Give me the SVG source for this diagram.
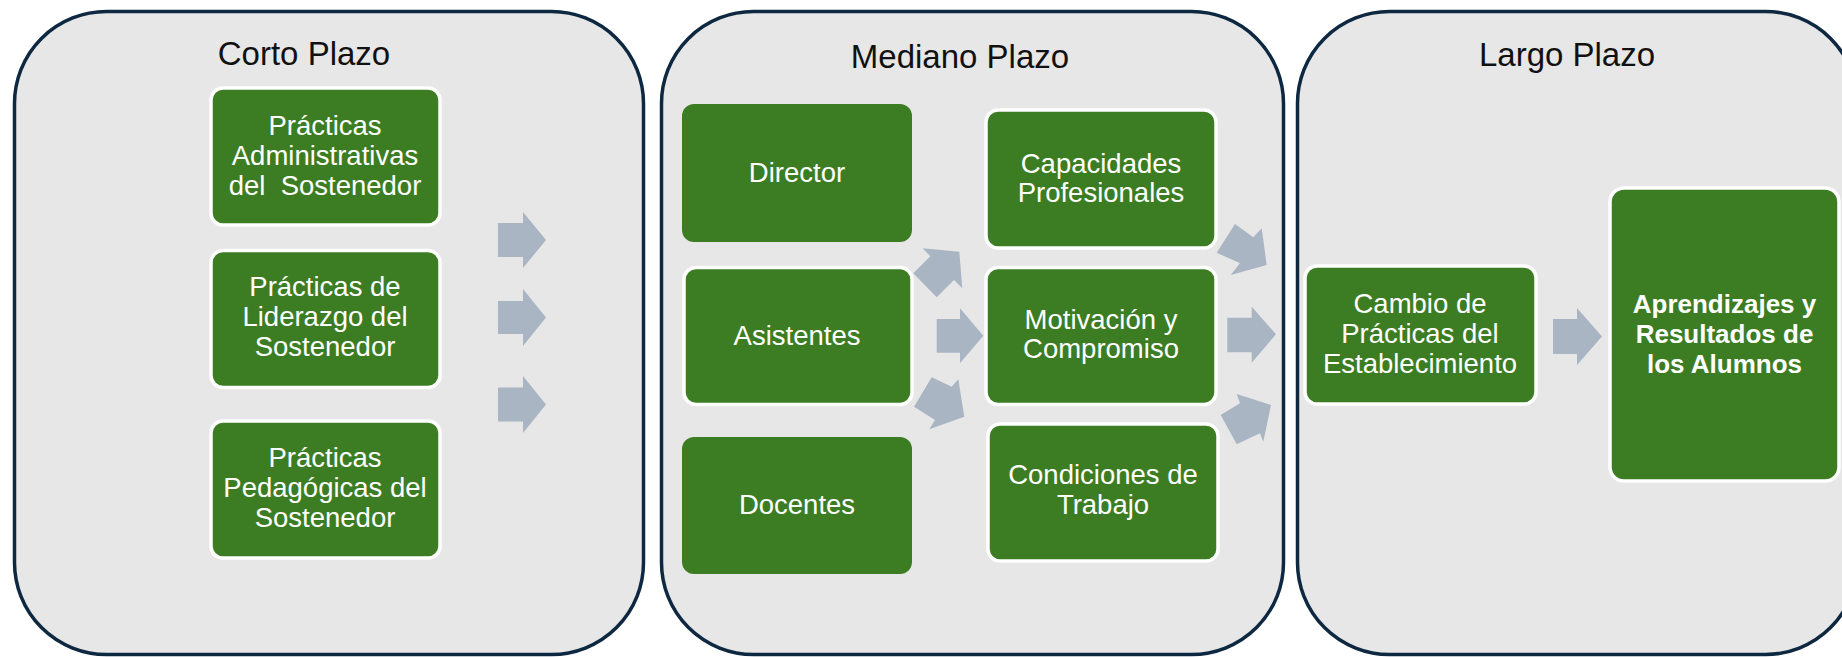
<svg xmlns="http://www.w3.org/2000/svg" width="1842" height="657" viewBox="0 0 1842 657">
<defs>
<style>
.panel{fill:#E7E7E7;stroke:#0E2841;stroke-width:3.5}
.title{font-family:"Liberation Sans",Arial,sans-serif;font-size:33px;fill:#111111;text-anchor:middle}
.box{fill:#3C7D23;stroke:#FFFFFF;stroke-width:3.5}
.boxn{fill:#3C7D23}
.t{font-family:"Liberation Sans",Arial,sans-serif;font-size:27.5px;fill:#FFFFFF;text-anchor:middle}
.tb{font-family:"Liberation Sans",Arial,sans-serif;font-size:26px;font-weight:bold;fill:#FFFFFF;text-anchor:middle}
.arr{fill:#A9B5C3}
</style>
</defs>
<rect width="1842" height="657" fill="#FFFFFF"/>

<g id="panel-corto">
<rect class="panel" x="14.5" y="11.5" width="629" height="643" rx="92" ry="92"/>
<text class="title" x="304" y="65">Corto Plazo</text>
</g>
<g id="panel-mediano">
<rect class="panel" x="661.5" y="11.5" width="622" height="643" rx="92" ry="92"/>
<text class="title" x="960" y="68">Mediano Plazo</text>
</g>
<g id="panel-largo">
<rect class="panel" x="1297.5" y="11.5" width="560" height="643" rx="92" ry="92"/>
<text class="title" x="1567" y="66">Largo Plazo</text>
</g>

<g id="node-administrativas">
<rect class="box" x="211" y="88" width="229" height="137" rx="12"/>
<text class="t" x="325" y="135">Prácticas</text>
<text class="t" x="325" y="165">Administrativas</text>
<text class="t" x="325" y="195">del&#160; Sostenedor</text>
</g>
<g id="node-liderazgo">
<rect class="box" x="211" y="250.5" width="229" height="137" rx="12"/>
<text class="t" x="325" y="296">Prácticas de</text>
<text class="t" x="325" y="326">Liderazgo del</text>
<text class="t" x="325" y="356">Sostenedor</text>
</g>
<g id="node-pedagogicas">
<rect class="box" x="211" y="421" width="229" height="137" rx="12"/>
<text class="t" x="325" y="467">Prácticas</text>
<text class="t" x="325" y="497">Pedagógicas del</text>
<text class="t" x="325" y="527">Sostenedor</text>
</g>

<g id="node-director">
<rect class="boxn" x="682" y="104" width="230" height="138" rx="12"/>
<text class="t" x="797" y="182">Director</text>
</g>
<g id="node-asistentes">
<rect class="box" x="684" y="267.5" width="228" height="137" rx="12"/>
<text class="t" x="797" y="345">Asistentes</text>
</g>
<g id="node-docentes">
<rect class="boxn" x="682" y="437" width="230" height="137" rx="12"/>
<text class="t" x="797" y="514">Docentes</text>
</g>
<g id="node-capacidades">
<rect class="box" x="986" y="110" width="230" height="138" rx="12"/>
<text class="t" x="1101" y="173">Capacidades</text>
<text class="t" x="1101" y="202">Profesionales</text>
</g>
<g id="node-motivacion">
<rect class="box" x="986" y="267.5" width="230" height="137" rx="12"/>
<text class="t" x="1101" y="329">Motivación y</text>
<text class="t" x="1101" y="358">Compromiso</text>
</g>
<g id="node-condiciones">
<rect class="box" x="988" y="424" width="230" height="137" rx="12"/>
<text class="t" x="1103" y="484">Condiciones de</text>
<text class="t" x="1103" y="514">Trabajo</text>
</g>

<g id="node-cambio">
<rect class="box" x="1305" y="266" width="231" height="138" rx="12"/>
<text class="t" x="1420" y="313">Cambio de</text>
<text class="t" x="1420" y="343">Prácticas del</text>
<text class="t" x="1420" y="373">Establecimiento</text>
</g>
<g id="node-aprendizajes">
<rect class="box" x="1610" y="188" width="229" height="293" rx="14"/>
<text class="tb" x="1724.5" y="313">Aprendizajes y</text>
<text class="tb" x="1724.5" y="343">Resultados de</text>
<text class="tb" x="1724.5" y="373">los Alumnos</text>
</g>

<g id="connectors">
<polygon class="arr" points="498,223 523,223 523,212 546,240 523,268 523,257 498,257"/>
<polygon class="arr" points="498,301 523,301 523,289 546,317.5 523,346 523,334 498,334"/>
<polygon class="arr" points="498,387.5 523,387.5 523,376 546,404.5 523,433 523,421.5 498,421.5"/>
<polygon class="arr" points="913.3,273.3 930.3,256.3 922.7,248.3 959.3,251.7 962.3,288.3 954,280 936.7,297.3"/>
<polygon class="arr" points="936.7,319 960,319 960,308.3 983.3,335.8 960,363.3 960,352.7 936.7,352.7"/>
<polygon class="arr" points="931.7,377.3 951.7,386.7 958.3,379.3 964.3,416.7 929.3,429.3 935,420 914,406.7"/>
<polygon class="arr" points="1235,224 1253.3,237.3 1261.7,228.3 1266.7,265 1230.7,275 1240,263.3 1216.7,252.7"/>
<polygon class="arr" points="1227.3,317.7 1251.7,317.7 1251.7,306.7 1276,334.3 1251.7,362.7 1251.7,352.3 1227.3,352.3"/>
<polygon class="arr" points="1220.7,415 1240,403.3 1236.7,394 1271,405 1263.3,441.7 1260,433.3 1236.7,444.3"/>
<polygon class="arr" points="1553,319 1577,319 1577,308 1602,336.5 1577,365 1577,354 1553,354"/>
</g>
</svg>
